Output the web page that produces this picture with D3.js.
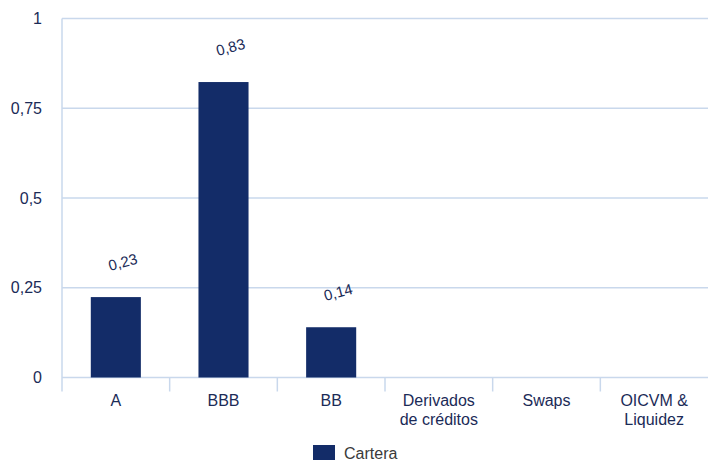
<!DOCTYPE html>
<html>
<head>
<meta charset="utf-8">
<script src="https://cdn.jsdelivr.net/npm/d3@7"></script>
<style>
  body { margin: 0; background: #fff; }
  svg { display: block; font-family: "Liberation Sans", Arial, sans-serif; }
</style>
</head>
<body>
<svg id="chart" width="708" height="461"></svg>
<script>
const categories = [["A"], ["BBB"], ["BB"], ["Derivados", "de créditos"], ["Swaps"], ["OICVM &", "Liquidez"]];
const cartera = [0.224, 0.823, 0.14, null, null, null];
const valueLabels = ["0,23", "0,83", "0,14", null, null, null];
const yTicks = [0, 0.25, 0.5, 0.75, 1];
const yTickLabels = ["0", "0,25", "0,5", "0,75", "1"];

const svg = d3.select("#chart");
const margin = {top: 18.5, right: 0, bottom: 83.5, left: 62};
const width = 708 - margin.left - margin.right;
const height = 461 - margin.top - margin.bottom;

const navy = "#132c68";
const grid = "#c9d8ec";
const ink = "#1b2b57";

const x = d3.scaleBand()
    .domain(d3.range(categories.length))
    .range([0, width])
    .paddingInner(0.535)
    .paddingOuter(0.2675);

const y = d3.scaleLinear().domain([0, 1]).range([height, 0]);

const g = svg.append("g").attr("transform", `translate(${margin.left},${margin.top})`);

// gridlines
g.selectAll(".grid")
    .data(yTicks)
    .join("line")
    .attr("x1", 0)
    .attr("x2", width)
    .attr("y1", d => y(d))
    .attr("y2", d => y(d))
    .style("stroke", grid)
    .style("stroke-width", 1.5);

// y axis line
g.append("line")
    .attr("x1", 0).attr("x2", 0)
    .attr("y1", 0).attr("y2", height + 14)
    .style("stroke", grid)
    .style("stroke-width", 1.5);

// category separators below axis
const step = x.step();
g.selectAll(".sep")
    .data(d3.range(1, categories.length))
    .join("line")
    .attr("x1", d => d * step)
    .attr("x2", d => d * step)
    .attr("y1", height)
    .attr("y2", height + 14)
    .style("stroke", grid)
    .style("stroke-width", 1.5);

// y tick labels
g.selectAll(".ytick")
    .data(yTicks)
    .join("text")
    .attr("x", -20)
    .attr("y", d => y(d))
    .attr("dy", "0.35em")
    .attr("text-anchor", "end")
    .style("font-size", "16px")
    .style("fill", ink)
    .text((d, i) => yTickLabels[i]);

// bars
g.selectAll(".bar")
    .data(cartera.map((v, i) => ({v, i})).filter(d => d.v != null))
    .join("rect")
    .attr("x", d => x(d.i))
    .attr("width", x.bandwidth())
    .attr("y", d => y(d.v))
    .attr("height", d => height - y(d.v))
    .style("fill", navy);

// value labels
g.selectAll(".val")
    .data(cartera.map((v, i) => ({v, i})).filter(d => d.v != null))
    .join("text")
    .attr("transform", d => `translate(${x(d.i) + x.bandwidth() / 2 + 7},${y(d.v) - 35}) rotate(-15)`)
    .attr("text-anchor", "middle")
    .attr("dy", "0.35em")
    .style("font-size", "15px")
    .style("fill", ink)
    .text(d => valueLabels[d.i]);

// category labels
g.selectAll(".cat")
    .data(categories)
    .join("text")
    .attr("x", (d, i) => x(i) + x.bandwidth() / 2)
    .attr("y", height + 22.5)
    .attr("text-anchor", "middle")
    .style("font-size", "16px")
    .style("fill", ink)
    .call(t => t.selectAll("tspan")
        .data(d => d)
        .join("tspan")
        .attr("x", function () { return this.parentNode.getAttribute("x"); })
        .attr("dy", (d, i) => i === 0 ? "0.35em" : "19px")
        .text(d => d));

// legend
const legend = svg.append("g").attr("transform", "translate(313,445)");
legend.append("rect").attr("width", 22).attr("height", 15).style("fill", navy);
legend.append("text")
    .attr("x", 31)
    .attr("y", 8)
    .attr("dy", "0.35em")
    .style("font-size", "16px")
    .style("fill", "#3a3a3a")
    .text("Cartera");
</script>
</body>
</html>
